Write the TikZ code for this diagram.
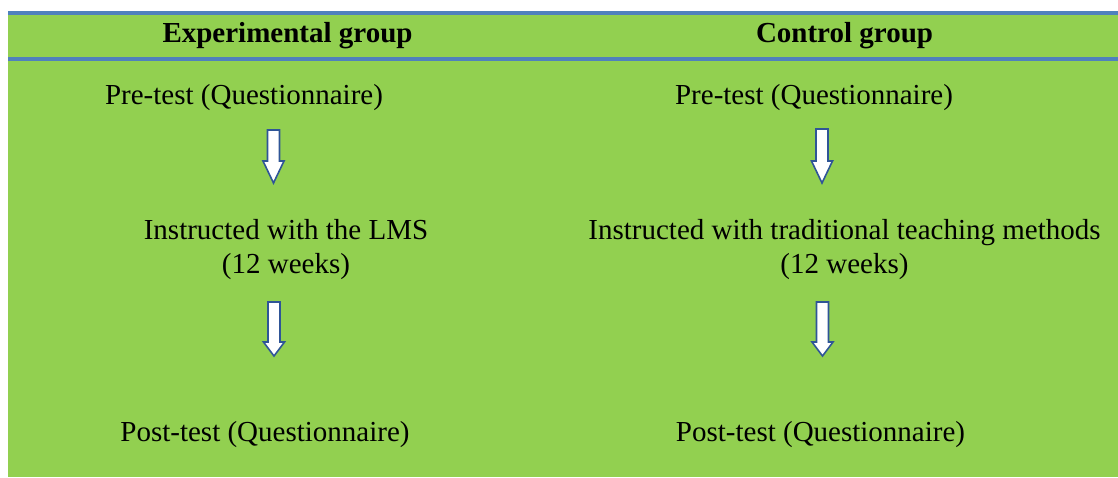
\documentclass[tikz,border=0pt]{standalone}
\usepackage{fontspec}
\setmainfont{Liberation Serif}
\definecolor{bggreen}{HTML}{92D050}
\definecolor{ruleblue}{HTML}{4F81BD}
\definecolor{arrowblue}{HTML}{2F5597}
\begin{document}
\begin{tikzpicture}[x=1pt,y=-1pt,
  txt/.style={inner sep=0pt, font=\fontsize{29}{34}\selectfont, text=black, anchor=base},
  hdr/.style={txt, font=\fontsize{29}{34}\selectfont\bfseries},
  blockarrow/.style={draw=arrowblue, line width=1.6pt, fill=white, line join=miter},
  pics/darrow/.style 2 args={code={
    \draw[blockarrow] (-6,0) -- (6,0) -- (6,#2) -- (10.5,#2) -- (0,#1) -- (-10.5,#2) -- (-6,#2) -- cycle;
  }}]
\useasboundingbox (0,0) rectangle (1118,477);
\fill[bggreen] (8,11) rectangle (1118,477);
\fill[ruleblue] (8,11) rectangle (1118,15);
\fill[ruleblue] (8,57) rectangle (1118,61);

\node[hdr] (h1) at (287.5,42) {Experimental group};
\node[hdr] (h2) at (844.5,42) {Control group};

\node[txt] (pre1) at (244,104) {Pre-test (Questionnaire)};
\node[txt] (pre2) at (814,104) {Pre-test (Questionnaire)};

\node[txt, align=center] (ins1) at (286,273) {Instructed with the LMS\\(12 weeks)};
\node[txt, align=center] (ins2) at (844.5,273) {Instructed with traditional teaching methods\\(12 weeks)};

\node[txt] (post1) at (265,441) {Post-test (Questionnaire)};
\node[txt] (post2) at (820.5,441) {Post-test (Questionnaire)};

\pic at (273.5,130) {darrow={53}{31}};
\pic at (822,129) {darrow={54}{32}};
\pic at (274,302) {darrow={54}{40}};
\pic at (822.5,302) {darrow={54}{40}};
\end{tikzpicture}
\end{document}
